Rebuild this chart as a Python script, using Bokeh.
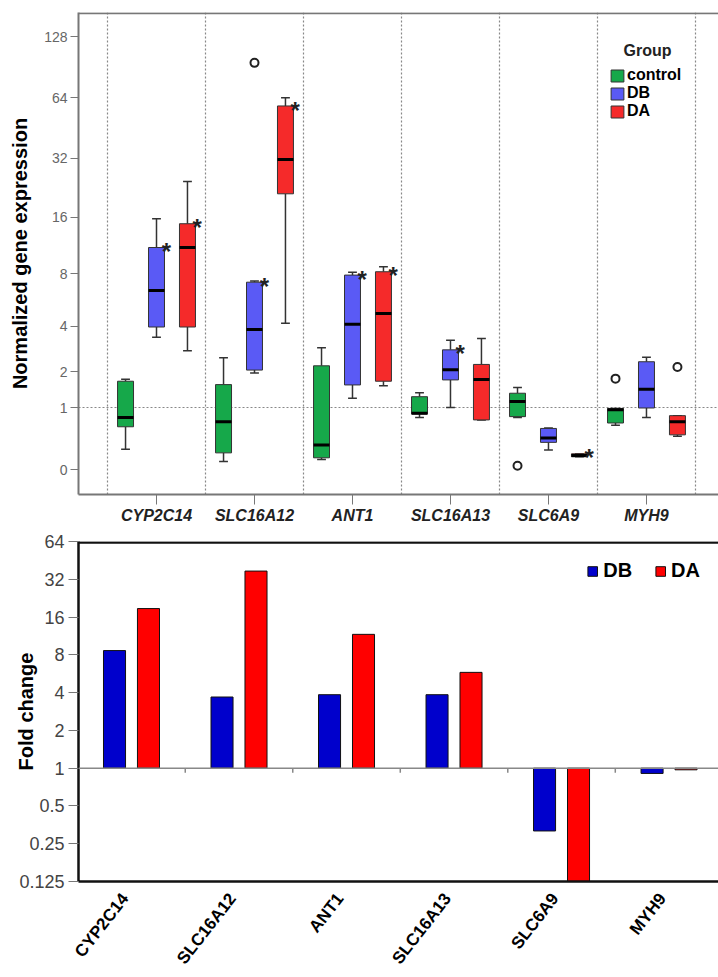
import math
import numpy as np
from bokeh.plotting import figure
from bokeh.models import (Range1d, FixedTicker, CustomJSTickFormatter, Span, Legend,
                          LegendItem, Label, ColumnDataSource)
from bokeh.layouts import column
from bokeh.embed import file_html
from bokeh.resources import INLINE
from bokeh.core.properties import value

# ---------------- data ----------------
genes = ["CYP2C14", "SLC16A12", "ANT1", "SLC16A13", "SLC6A9", "MYH9"]
groups = ["control", "DB", "DA"]

control_low = [0.26, 0.097, 0.122, 0.80, 0.80, 0.65]
control_q1 = [0.62, 0.209, 0.144, 0.87, 0.815, 0.69]
control_med = [0.80, 0.716, 0.322, 0.885, 1.15, 0.96]
control_q3 = [1.70, 1.60, 2.21, 1.27, 1.36, 0.99]
control_high = [1.76, 2.51, 2.93, 1.37, 1.52, 0.99]

db_low = [3.42, 1.96, 1.23, 1.01, 0.25, 0.80]
db_q1 = [3.96, 2.06, 1.59, 1.74, 0.36, 1.00]
db_med = [6.48, 3.82, 4.12, 2.07, 0.43, 1.47]
db_q3 = [11.1, 7.2, 7.88, 2.84, 0.59, 2.36]
db_high = [15.7, 7.3, 8.18, 3.28, 0.60, 2.53]

da_low = [2.80, 4.17, 1.57, 0.75, 0.157, 0.457]
da_q1 = [3.96, 21.1, 1.70, 0.75, 0.157, 0.48]
da_med = [11.1, 31.5, 4.77, 1.75, 0.173, 0.716]
da_q3 = [14.8, 58.2, 8.22, 2.26, 0.196, 0.835]
da_high = [24.4, 63.9, 8.75, 3.36, 0.196, 0.835]

outlier_gene = ["SLC16A12", "SLC6A9", "MYH9", "MYH9"]
outlier_group = ["DB", "control", "control", "DA"]
outlier_value = [95.0, 0.046, 1.78, 2.17]

star_gene = ["CYP2C14", "CYP2C14", "SLC16A12", "SLC16A12", "ANT1", "ANT1", "SLC16A13", "SLC6A9"]
star_group = ["DB", "DA", "DB", "DA", "DB", "DA", "DB", "DA"]

expr_ticks = [0, 1, 2, 4, 8, 16, 32, 64, 128]

fold_db = [8.65, 3.69, 3.85, 3.85, 0.316, 0.908]
fold_da = [18.7, 37.2, 11.65, 5.8, 0.12, 0.97]
fold_ticks = [0.125, 0.25, 0.5, 1, 2, 4, 8, 16, 32, 64]

# ---------------- style ----------------
FONT = "Liberation Sans"
box_colors = {"control": "#16a84a", "DB": "#5a5af5", "DA": "#f52a2a"}
group_offset = {"control": -0.316, "DB": 0.0, "DA": 0.316}
BOX_W = 0.163
CAP_W = 0.09
AX_GRAY = "#777777"

stats = {
    "control": dict(low=control_low, q1=control_q1, med=control_med, q3=control_q3, high=control_high),
    "DB": dict(low=db_low, q1=db_q1, med=db_med, q3=db_q3, high=db_high),
    "DA": dict(low=da_low, q1=da_q1, med=da_med, q3=da_q3, high=da_high),
}


def tr(v):
    return np.log2(np.asarray(v, dtype=float) + 1.0)


# ---------------- top panel: box plots ----------------
Y1_END = 7.40
p1 = figure(width=718, height=526, x_range=Range1d(-0.796, 5.735), y_range=Range1d(-0.40, Y1_END),
            output_backend="svg", toolbar_location=None,
            min_border_left=78, min_border_right=0, min_border_top=12, min_border_bottom=30)
p1.outline_line_color = None
p1.background_fill_color = "white"

idx = np.arange(len(genes), dtype=float)
legend_items = []
for g in groups:
    s = stats[g]
    x = idx + group_offset[g]
    src = ColumnDataSource(dict(
        x=x, xl=x - BOX_W / 2, xr=x + BOX_W / 2, cl=x - CAP_W / 2, cr=x + CAP_W / 2,
        low=tr(s["low"]), q1=tr(s["q1"]), med=tr(s["med"]), q3=tr(s["q3"]), high=tr(s["high"])))
    p1.segment(x0="x", y0="q3", x1="x", y1="high", source=src, line_color="#333333", line_width=1.5)
    p1.segment(x0="x", y0="q1", x1="x", y1="low", source=src, line_color="#333333", line_width=1.5)
    p1.segment(x0="cl", y0="high", x1="cr", y1="high", source=src, line_color="#333333", line_width=1.5)
    p1.segment(x0="cl", y0="low", x1="cr", y1="low", source=src, line_color="#333333", line_width=1.5)
    r = p1.quad(left="xl", right="xr", bottom="q1", top="q3", source=src,
                fill_color=box_colors[g], line_color="#333333", line_width=1)
    p1.segment(x0="xl", y0="med", x1="xr", y1="med", source=src, line_color="black", line_width=3)
    legend_items.append(LegendItem(label=g, renderers=[r]))

# outliers
ox = [genes.index(gn) + group_offset[gr] for gn, gr in zip(outlier_gene, outlier_group)]
p1.scatter(x=ox, y=tr(outlier_value), marker="circle", size=8, fill_color="white",
           line_color="#222222", line_width=2)

# significance stars
sx = [genes.index(gn) + group_offset[gr] + 0.10 for gn, gr in zip(star_gene, star_group)]
sy = [float(tr(stats[gr]["q3"][genes.index(gn)])) + 0.145 for gn, gr in zip(star_gene, star_group)]
p1.text(x=sx, y=sy, text=["*"] * len(sx), text_font=value(FONT), text_font_style="bold",
        text_font_size="24px", text_align="center", text_baseline="alphabetic",
        y_offset=13, text_color="#222222")

# grids: dotted lines at category boundaries and at expression 1
p1.xgrid.ticker = FixedTicker(ticks=[i - 0.5 for i in range(len(genes) + 1)])
p1.ygrid.ticker = FixedTicker(ticks=[float(tr(1))])
for gr in (p1.xgrid[0], p1.ygrid[0]):
    gr.grid_line_color = "#888888"
    gr.grid_line_dash = "2 2"
    gr.grid_line_width = 1.2

p1.add_layout(Span(location=Y1_END - 0.012, dimension="width", line_color=AX_GRAY, line_width=2))

ya = p1.yaxis[0]
ya.ticker = FixedTicker(ticks=list(tr(expr_ticks)))
ya.formatter = CustomJSTickFormatter(code="return String(Math.round(Math.pow(2, tick) - 1));")
ya.axis_line_color = AX_GRAY
ya.axis_line_width = 2
ya.major_tick_line_color = AX_GRAY
ya.major_tick_out = 8
ya.major_tick_in = 0
ya.minor_tick_line_color = None
ya.major_label_text_font = FONT
ya.major_label_text_font_size = "14px"
ya.major_label_text_color = "#666666"
ya.major_label_standoff = 3
ya.axis_label = "Normalized gene expression"
ya.axis_label_text_font = FONT
ya.axis_label_text_font_style = "bold"
ya.axis_label_text_font_size = "20px"
ya.axis_label_text_color = "black"
ya.axis_label_standoff = 10

xa = p1.xaxis[0]
xa.ticker = FixedTicker(ticks=list(range(len(genes))))
xa.major_label_overrides = {i: g for i, g in enumerate(genes)}
xa.axis_line_color = AX_GRAY
xa.axis_line_width = 2
xa.major_tick_line_color = AX_GRAY
xa.major_tick_out = 10
xa.major_tick_in = 0
xa.minor_tick_line_color = None
xa.major_label_text_font = FONT
xa.major_label_text_font_style = "bold italic"
xa.major_label_text_font_size = "16px"
xa.major_label_text_color = "#222222"
xa.major_label_standoff = 2

leg1 = Legend(items=legend_items, location=(531, 374), orientation="vertical",
              glyph_width=16, glyph_height=15, label_standoff=2, spacing=0, padding=0, margin=0,
              label_height=15, label_text_font=FONT, label_text_font_style="bold",
              label_text_font_size="16px", label_text_color="black",
              border_line_color=None, background_fill_alpha=0)
p1.add_layout(leg1)
p1.add_layout(Label(x=5.01, y=6.79, text="Group", text_align="center", text_baseline="alphabetic",
                    text_font=FONT, text_font_style="bold", text_font_size="16px",
                    text_color="#222222"))

# ---------------- bottom panel: fold change bars ----------------
p2 = figure(width=718, height=450, x_range=Range1d(-0.493, 5.46), y_axis_type="log",
            y_range=Range1d(0.125, 64), output_backend="svg", toolbar_location=None,
            min_border_left=78, min_border_right=0, min_border_top=15, min_border_bottom=91)
p2.outline_line_color = None
p2.grid.visible = False

BAR_OFF = 0.158
BAR_W = 0.205
LABEL_SHIFT = 0.06
p2.add_layout(Span(location=1, dimension="width", line_color="#888888", line_width=1.5))
bx = [i + 0.5 for i in range(len(genes) - 1)]
p2.segment(x0=bx, y0=[1] * len(bx), x1=bx, y1=[2 ** -0.12] * len(bx),
           line_color="#888888", line_width=1.5)
r_db = p2.vbar(x=idx - BAR_OFF, width=BAR_W, bottom=1, top=fold_db,
               fill_color="#0000cc", line_color="#111111", line_width=1)
r_da = p2.vbar(x=idx + BAR_OFF, width=BAR_W, bottom=1, top=fold_da,
               fill_color="#ff0000", line_color="#111111", line_width=1)
p2.add_layout(Span(location=64 * 2 ** -0.025, dimension="width", line_color="#111111", line_width=2.5))

ya2 = p2.yaxis[0]
ya2.ticker = FixedTicker(ticks=fold_ticks)
ya2.formatter = CustomJSTickFormatter(code="return String(tick);")
ya2.axis_line_color = "#111111"
ya2.axis_line_width = 2.5
ya2.major_tick_line_color = "#777777"
ya2.major_tick_out = 10
ya2.major_tick_in = 0
ya2.minor_tick_line_color = None
ya2.major_label_text_font = FONT
ya2.major_label_text_font_size = "18px"
ya2.major_label_text_color = "#444444"
ya2.major_label_standoff = 4
ya2.axis_label = "Fold change"
ya2.axis_label_text_font = FONT
ya2.axis_label_text_font_style = "bold"
ya2.axis_label_text_font_size = "20px"
ya2.axis_label_text_color = "black"
ya2.axis_label_standoff = -21

xa2 = p2.xaxis[0]
xa2.ticker = FixedTicker(ticks=[i - LABEL_SHIFT for i in range(len(genes))])
xa2.formatter = CustomJSTickFormatter(args=dict(names=genes), code="return names[Math.round(tick)];")
xa2.major_label_orientation = math.radians(52)
xa2.axis_line_color = "#111111"
xa2.axis_line_width = 2.5
xa2.major_tick_line_color = None
xa2.minor_tick_line_color = None
xa2.major_label_text_font = FONT
xa2.major_label_text_font_style = "bold"
xa2.major_label_text_font_size = "17px"
xa2.major_label_text_color = "black"
xa2.major_label_standoff = 8

leg2 = Legend(items=[LegendItem(label="DB", renderers=[r_db]), LegendItem(label="DA", renderers=[r_da])],
              location="top_right", orientation="horizontal",
              glyph_width=12, glyph_height=12, label_standoff=5, spacing=22, padding=0, margin=18,
              label_text_font=FONT, label_text_font_style="bold", label_text_font_size="20px",
              label_text_color="black", border_line_color=None, background_fill_alpha=0)
p2.add_layout(leg2)

layout = column(p1, p2, spacing=0)
open("out.html", "w").write(file_html(layout, INLINE))
